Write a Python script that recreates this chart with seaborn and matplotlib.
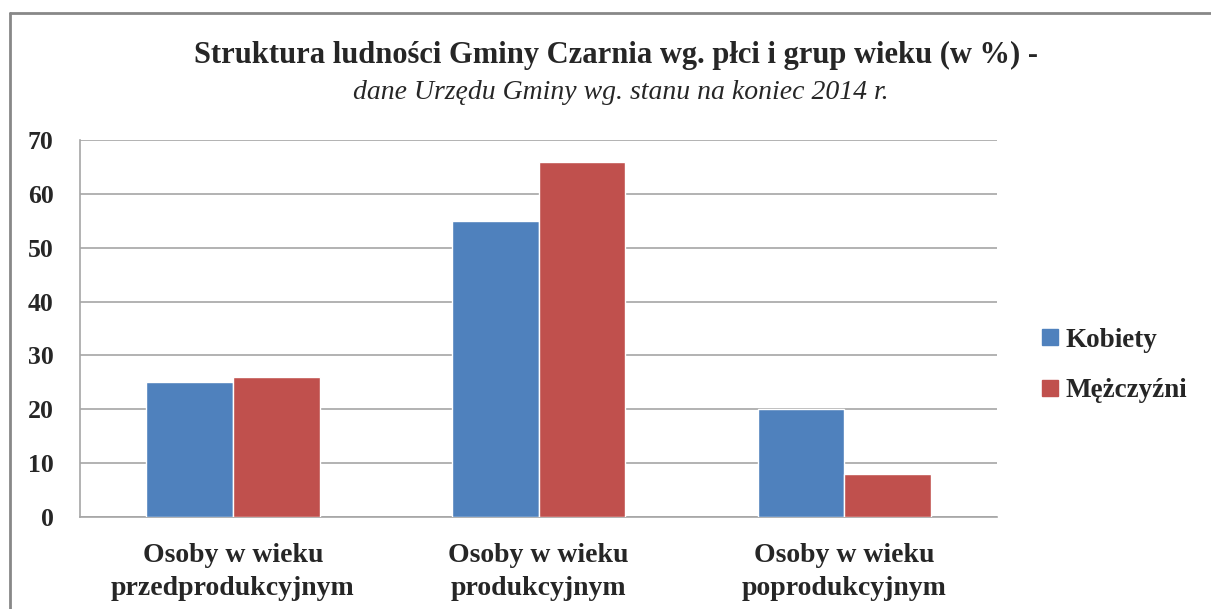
import numpy as np
import pandas as pd
import seaborn as sns
import matplotlib.pyplot as plt
from matplotlib.lines import Line2D

categories = ["Osoby w wieku\nprzedprodukcyjnym", "Osoby w wieku\nprodukcyjnym", "Osoby w wieku\npoprodukcyjnym"]
series = ["Kobiety", "Mężczyźni"]
kobiety = [25, 55, 20]
mezczyzni = [26, 66, 8]
colors = ["#4F81BD", "#C0504D"]

df = pd.DataFrame({
    "grupa": categories * 2,
    "plec": [series[0]] * 3 + [series[1]] * 3,
    "wartosc": kobiety + mezczyzni,
})

sns.set_style("white")
plt.rcParams['font.family'] = ['Liberation Serif', 'DejaVu Serif']

fig = plt.figure(figsize=(12.11, 6.09), dpi=100)
ax = fig.add_axes([0.0661, 0.151, 0.7572, 0.619])

sns.barplot(data=df, x="grupa", y="wartosc", hue="plec", palette=colors,
            width=0.567, saturation=1, ax=ax, legend=False, zorder=3)

ax.set_ylim(0, 70)
ax.set_xlim(-0.5, 2.5)
ax.set_yticks(range(0, 71, 10))
ax.yaxis.grid(True, color="#A6A6A6", linewidth=1.2, zorder=0)
ax.set_axisbelow(True)
for s in ["top", "right"]:
    ax.spines[s].set_visible(False)
for s in ["left", "bottom"]:
    ax.spines[s].set_color("#A6A6A6")
    ax.spines[s].set_linewidth(1.2)
ax.tick_params(axis="x", length=0, pad=19)
ax.tick_params(axis="y", length=0, pad=19)
for lbl in ax.get_yticklabels():
    lbl.set_fontsize(18.5)
    lbl.set_fontweight("bold")
for lbl in ax.get_xticklabels():
    lbl.set_fontsize(20)
    lbl.set_linespacing(1.4)
    lbl.set_fontweight("bold")
ax.set_xlabel("")
ax.set_ylabel("")

handles = [Line2D([0], [0], marker="s", linestyle="", markersize=11,
                  markerfacecolor=c, markeredgecolor=c) for c in colors]
fig.legend(handles, series, loc="center left", bbox_to_anchor=(0.836, 0.400),
           frameon=False, prop={"size": 19.5, "weight": "bold"},
           handletextpad=0.05, labelspacing=0.95, handlelength=1.0)

fig.text(0.509, 0.909, "Struktura ludności Gminy Czarnia wg. płci i grup wieku (w %) -",
         ha="center", va="center", fontsize=22, fontweight="bold")
fig.text(0.513, 0.848, "dane Urzędu Gminy wg. stanu na koniec 2014 r.",
         ha="center", va="center", fontsize=20, style="italic")

# frame border (left + top only, as in the cropped original)
fig.add_artist(Line2D([0.0085, 0.0085], [0, 0.979], transform=fig.transFigure,
                      color="#888888", linewidth=2))
fig.add_artist(Line2D([0.0085, 1], [0.979, 0.979], transform=fig.transFigure,
                      color="#888888", linewidth=2))

fig.savefig("out.png", dpi=100)
